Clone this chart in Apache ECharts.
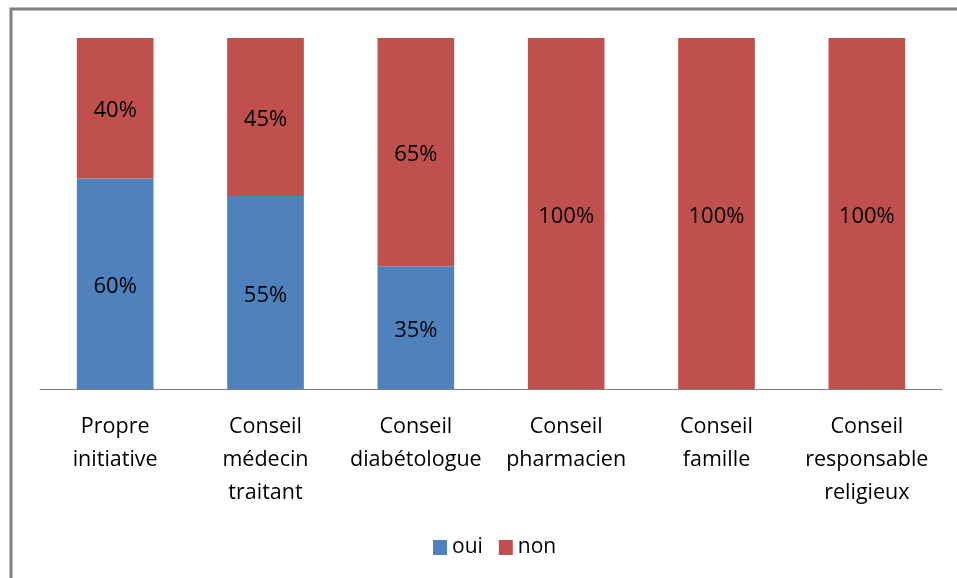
<!DOCTYPE html>
<html><head><meta charset="utf-8">
<script src="https://cdn.jsdelivr.net/npm/echarts@6/dist/echarts.min.js"></script>
<style>html,body{margin:0;padding:0;background:#fff}#c{width:957px;height:578px}</style>
</head><body><div id="c"></div>
<script>
const categories = ['Propre\ninitiative', 'Conseil\nmédecin\ntraitant', 'Conseil\ndiabétologue', 'Conseil\npharmacien', 'Conseil\nfamille', 'Conseil\nresponsable\nreligieux'];
const oui = [60, 55, 35, 0, 0, 0];
const non = [40, 45, 65, 100, 100, 100];
const seriesNames = ['oui', 'non'];

const FONT = '"Open Sans", sans-serif';
const chart = echarts.init(document.getElementById('c'), null, {renderer: 'canvas'});
const lbl = {show: true, position: 'inside', offset: [0, 3], color: '#000', fontSize: 22, fontFamily: FONT,
  formatter: p => p.value > 0 ? p.value + '%' : ''};
chart.setOption({
  animation: false,
  graphic: [{type: 'rect', shape: {x: 11, y: 9, width: 1000, height: 1000},
    style: {fill: 'none', stroke: '#808080', lineWidth: 3}, z: -1}],
  grid: {left: 40, right: 15, top: 38, bottom: 189, containLabel: false},
  legend: {bottom: 15, left: 428, itemWidth: 14, itemHeight: 15, itemGap: 16,
    icon: 'rect', textStyle: {fontSize: 21, fontFamily: FONT, color: '#000'},
    data: seriesNames},
  xAxis: {type: 'category', data: categories,
    axisLine: {lineStyle: {color: '#808080', width: 1}}, axisTick: {show: false},
    axisLabel: {interval: 0, color: '#000', fontSize: 21.5, fontFamily: FONT, lineHeight: 33, margin: 21}},
  yAxis: {type: 'value', min: 0, max: 100, show: false, splitLine: {show: false}},
  series: [
    {name: 'oui', type: 'bar', stack: 's', data: oui, barWidth: '51%', itemStyle: {color: '#4F81BD'}, label: lbl},
    {name: 'non', type: 'bar', stack: 's', data: non, barWidth: '51%', itemStyle: {color: '#C0504D'}, label: lbl}
  ]
});
</script></body></html>
